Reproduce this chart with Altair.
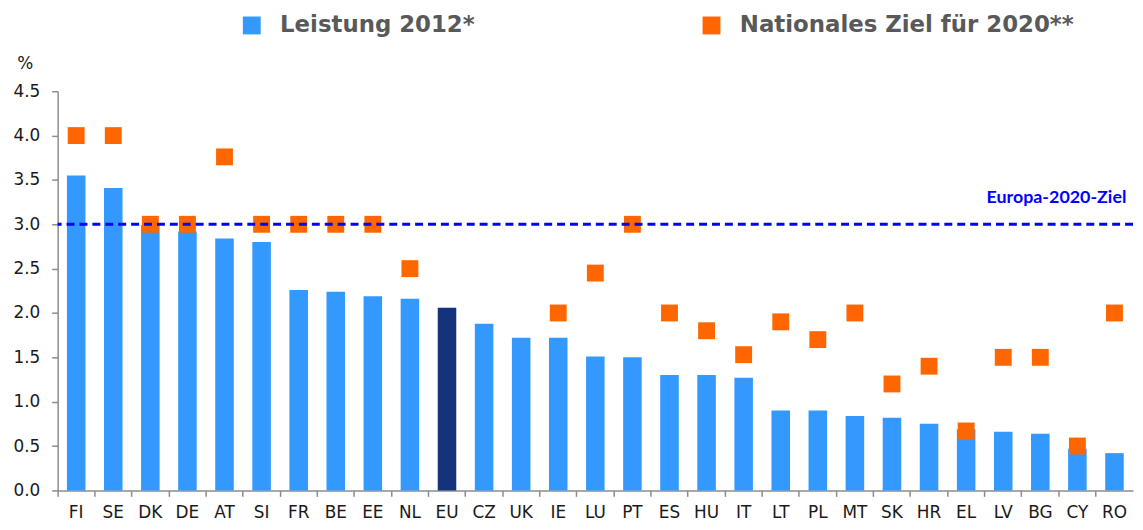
import altair as alt
import pandas as pd

countries = ["FI", "SE", "DK", "DE", "AT", "SI", "FR", "BE", "EE", "NL", "EU", "CZ", "UK", "IE",
             "LU", "PT", "ES", "HU", "IT", "LT", "PL", "MT", "SK", "HR", "EL", "LV", "BG", "CY", "RO"]
leistung_2012 = [3.55, 3.41, 2.99, 2.92, 2.84, 2.80, 2.26, 2.24, 2.19, 2.16, 2.06, 1.88, 1.72, 1.72,
                 1.51, 1.50, 1.30, 1.30, 1.27, 0.90, 0.90, 0.84, 0.82, 0.75, 0.69, 0.66, 0.64, 0.47, 0.42]
ziel_2020 = [4.0, 4.0, 3.0, 3.0, 3.76, 3.0, 3.0, 3.0, 3.0, 2.5, None, None, None, 2.0,
             2.45, 3.0, 2.0, 1.8, 1.53, 1.9, 1.7, 2.0, 1.2, 1.4, 0.67, 1.5, 1.5, 0.5, 2.0]
europa_ziel = 3.0

S_BAR = "Leistung 2012*"
S_TGT = "Nationales Ziel für 2020**"
S_EU = "EU-Durchschnitt"

bars = pd.DataFrame({
    "Land": countries,
    "Wert": leistung_2012,
    "Serie": [S_EU if c == "EU" else S_BAR for c in countries],
})
tgts = pd.DataFrame({
    "Land": countries,
    "Wert": ziel_2020,
    "Serie": [S_TGT] * len(countries),
}).dropna()

color = alt.Color(
    "Serie:N",
    scale=alt.Scale(domain=[S_BAR, S_TGT, S_EU], range=["#3399ff", "#ff6600", "#14337a"]),
    legend=alt.Legend(
        values=[S_BAR, S_TGT],
        title=None,
        orient="none",
        legendX=184,
        legendY=-78,
        direction="horizontal",
        symbolType="square",
        symbolSize=324,
        symbolStrokeWidth=0,
        labelFont="DejaVu Sans",
        labelFontSize=23,
        labelFontWeight="bold",
        labelColor="#595959",
        labelOffset=17,
        labelLimit=600,
        columnPadding=226,
    ),
)

x = alt.X(
    "Land:N",
    sort=countries,
    scale=alt.Scale(paddingInner=0, paddingOuter=0),
    axis=alt.Axis(
        title=None, labelAngle=0, bandPosition=0, tickSize=6, labelPadding=8,
        labelFont="DejaVu Sans", labelFontSize=17, labelColor="#1a1a1a",
        domainColor="#8c8c8c", tickColor="#8c8c8c", domainWidth=1.5, tickWidth=1.5,
    ),
)
y = alt.Y(
    "Wert:Q",
    scale=alt.Scale(domain=[0, 4.5], nice=False),
    axis=alt.Axis(
        title="%", titleAngle=0, titleX=-33, titleY=-28, titleAlign="center",
        titleBaseline="middle", titleFont="DejaVu Sans", titleFontSize=17,
        titleFontWeight="normal", titleColor="#1a1a1a",
        values=[0, 0.5, 1, 1.5, 2, 2.5, 3, 3.5, 4, 4.5], format=".1f",
        grid=False, tickSize=6, labelPadding=12,
        labelFont="DejaVu Sans", labelFontSize=17, labelColor="#1a1a1a",
        domainColor="#8c8c8c", tickColor="#8c8c8c", domainWidth=1.5, tickWidth=1.5,
    ),
)

bar_layer = alt.Chart(bars).mark_bar(width=alt.RelativeBandSize(0.5)).encode(
    x=x, y=y, color=color
)
sq_layer = alt.Chart(tgts).mark_square(size=289, opacity=1, filled=True).encode(
    x=alt.X("Land:N", sort=countries), y="Wert:Q", color=color
)
rule_df = pd.DataFrame({"Ziel": [europa_ziel]})
rule = alt.Chart(rule_df).mark_rule(color="#0000ff", strokeWidth=3, strokeDash=[8, 5]).encode(
    y="Ziel:Q"
)
label = alt.Chart(rule_df).mark_text(
    text="Europa-2020-Ziel", color="#0000ff", font="Lato", fontWeight="bold",
    fontSize=18, align="right", baseline="middle", dx=12, dy=-26,
).encode(x=alt.datum(countries[-1]), y="Ziel:Q")

chart = alt.layer(bar_layer, sq_layer, rule, label).properties(
    width=1135,
    height=514,
    autosize=alt.AutoSizeParams(type="fit", contains="padding"),
    padding={"left": 4, "top": 45, "right": 0, "bottom": 0},
).configure_view(stroke=None)

chart.save("out.html", embed_options={"renderer": "svg", "actions": False})
